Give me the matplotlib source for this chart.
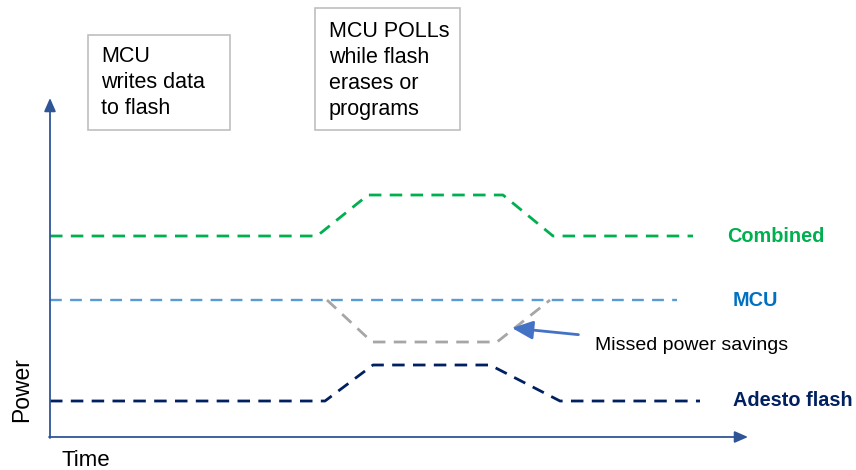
import matplotlib.pyplot as plt
from matplotlib.patches import Rectangle

plt.rcParams['font.family'] = ['Liberation Sans', 'DejaVu Sans']

# schematic power levels over time (arbitrary units, origin at axis corner)
combined_t = [0, 267, 318, 453, 503, 643]
combined_p = [201, 201, 242, 242, 201, 201]

mcu_t = [0, 627]
mcu_p = [137, 137]

ideal_t = [277, 322, 447, 500]
ideal_p = [137, 95, 95, 137]

flash_t = [0, 275, 323, 440, 510, 650]
flash_p = [36, 36, 72, 72, 36, 36]

series_labels = ["Combined", "MCU", "Adesto flash"]
box_texts = ["MCU\nwrites data\nto flash", "MCU POLLs\nwhile flash\nerases or\nprograms"]

GREEN = '#00B050'
LBLUE = '#5B9BD5'
NAVY = '#002060'
GREY = '#A6A6A6'
AXIS = '#2F5597'

fig = plt.figure(figsize=(8.56, 4.70), dpi=100)
ax = fig.add_axes([0, 0, 1, 1])
ax.set_xlim(-50, 806)
ax.set_ylim(-33, 437)
ax.axis('off')

dash = (4.5, 3)
ax.plot(combined_t, combined_p, color=GREEN, lw=2.0, dashes=dash)
ax.plot(mcu_t, mcu_p, color=LBLUE, lw=1.7, dashes=(5, 3.5))
ax.plot(ideal_t, ideal_p, color=GREY, lw=2.0, dashes=dash)
ax.plot(flash_t, flash_p, color=NAVY, lw=2.0, dashes=dash)

# axes with arrow heads
ax.annotate('', xy=(0, 339), xytext=(0, -1),
            arrowprops=dict(arrowstyle='-|>,head_length=0.8,head_width=0.35',
                            color=AXIS, lw=1.3, shrinkA=0, shrinkB=0))
ax.annotate('', xy=(698, 0), xytext=(-1, 0),
            arrowprops=dict(arrowstyle='-|>,head_length=0.8,head_width=0.35',
                            color=AXIS, lw=1.3, shrinkA=0, shrinkB=0))

ax.text(-28, 47, "Power", rotation=90, fontsize=16.5, ha='center', va='center')
ax.text(12, -23, "Time", fontsize=16, ha='left', va='center')

# series labels
ax.text(677, combined_p[-1], series_labels[0], color=GREEN, fontsize=14.3,
        fontweight='bold', ha='left', va='center')
ax.text(683, mcu_p[-1], series_labels[1], color='#0070C0', fontsize=14.3,
        fontweight='bold', ha='left', va='center')
ax.text(683, flash_p[-1], series_labels[2], color=NAVY, fontsize=14.3,
        fontweight='bold', ha='left', va='center')

# missed savings callout
ax.annotate("Missed power savings", xy=(462, 109), xytext=(545, 91),
            fontsize=14, ha='left', va='center',
            arrowprops=dict(arrowstyle='-|>,head_length=0.9,head_width=0.4',
                            color='#4472C4', lw=2, shrinkA=10, shrinkB=0))

# annotation boxes
ax.add_patch(Rectangle((38, 307), 142, 95, fill=False, ec='#BFBFBF', lw=1.2))
ax.add_patch(Rectangle((265, 307), 145, 122, fill=False, ec='#BFBFBF', lw=1.2))
ax.text(51, 391, box_texts[0], fontsize=15.5, ha='left', va='top', linespacing=1.32)
ax.text(279, 416, box_texts[1], fontsize=15.5, ha='left', va='top', linespacing=1.32)

fig.savefig('out.png', dpi=100)
